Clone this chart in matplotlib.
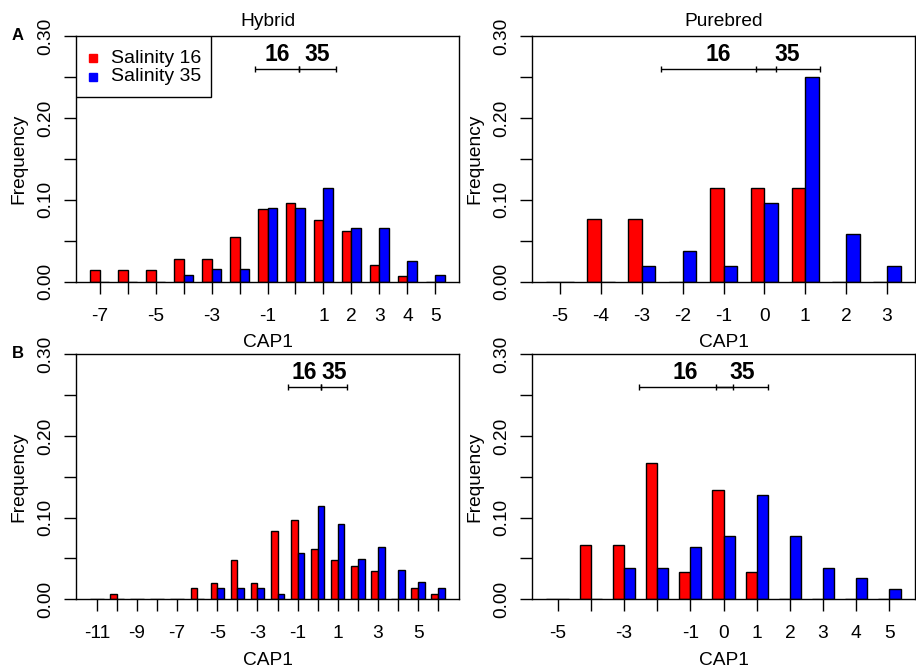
import numpy as np
import matplotlib
matplotlib.use("Agg")
import matplotlib.pyplot as plt
from matplotlib.patches import Rectangle
from matplotlib.lines import Line2D

plt.rcParams["font.family"] = ["Liberation Sans", "DejaVu Sans"]

# ---- data: relative frequency of CAP1 scores per salinity treatment ----
hybrid_a_cats = np.arange(-7, 6)
hybrid_a_s16 = [0.014, 0.014, 0.014, 0.028, 0.028, 0.055, 0.089, 0.096, 0.075, 0.062, 0.021, 0.007, 0.0]
hybrid_a_s35 = [0.0, 0.0, 0.0, 0.008, 0.016, 0.016, 0.090, 0.090, 0.115, 0.066, 0.066, 0.025, 0.008]
hybrid_a_labels = [-7, -5, -3, -1, 1, 2, 3, 4, 5]

purebred_a_cats = np.arange(-5, 4)
purebred_a_s16 = [0.0, 0.077, 0.077, 0.0, 0.115, 0.115, 0.115, 0.0, 0.0]
purebred_a_s35 = [0.0, 0.0, 0.019, 0.038, 0.019, 0.096, 0.250, 0.058, 0.019]
purebred_a_labels = [-5, -4, -3, -2, -1, 0, 1, 2, 3]

hybrid_b_cats = np.arange(-11, 7)
hybrid_b_s16 = [0.0, 0.0065, 0.0, 0.0, 0.0, 0.0135, 0.0204, 0.0486, 0.0204, 0.0833,
                0.0967, 0.062, 0.0486, 0.0412, 0.0343, 0.0, 0.0135, 0.0065]
hybrid_b_s35 = [0.0, 0.0, 0.0, 0.0, 0.0, 0.0, 0.0139, 0.0139, 0.0139, 0.0065,
                0.0571, 0.1139, 0.0927, 0.0498, 0.0637, 0.0355, 0.0212, 0.0139]
hybrid_b_labels = [-11, -9, -7, -5, -3, -1, 1, 3, 5]

purebred_b_cats = np.arange(-5, 6)
purebred_b_s16 = [0.0, 0.0667, 0.0667, 0.1667, 0.0333, 0.1333, 0.0333, 0.0, 0.0, 0.0, 0.0]
purebred_b_s35 = [0.0, 0.0, 0.0385, 0.0385, 0.0641, 0.0769, 0.1282, 0.0769, 0.0385, 0.0256, 0.0128]
purebred_b_labels = [-5, -3, -1, 0, 1, 2, 3, 4, 5]

# group means of CAP1 and interval half-widths (salinity 16, salinity 35)
hybrid_a_means, hybrid_a_hw = [-0.665, 0.79], [0.795, 0.66]
purebred_a_means, purebred_a_hw = [-1.13, 0.57], [1.41, 0.78]
hybrid_b_means, hybrid_b_hw = [-0.67, 0.81], [0.82, 0.66]
purebred_b_means, purebred_b_hw = [-1.14, 0.555], [1.42, 0.775]
group_names = ["16", "35"]

RED = "#FF0000"
BLUE = "#0000FF"
FS = 13.8
LW = 1.0

W, H = 916, 671
fig = plt.figure(figsize=(W / 100, H / 100), dpi=100)


def px_axes(x0, x1, ytop, ybot):
    return fig.add_axes([x0 / W, 1 - ybot / H, (x1 - x0) / W, (ybot - ytop) / H])


def panel(ax, cats, s16, s35, labels, means, hws):
    cats = np.asarray(cats)
    bw = 1 / 3
    ax.bar(cats - bw / 2, s16, width=bw, color=RED, edgecolor="black", linewidth=LW, zorder=2)
    ax.bar(cats + bw / 2, s35, width=bw, color=BLUE, edgecolor="black", linewidth=LW, zorder=2)
    span = (cats.max() - cats.min()) + 2 * bw
    ax.set_xlim(cats.min() - bw - 0.04 * span, cats.max() + bw + 0.04 * span)
    ax.set_ylim(0, 0.30)

    ax.set_xticks(cats)
    ax.set_xticklabels([str(c) if c in labels else "" for c in cats])
    yt = np.round(np.arange(0, 0.301, 0.05), 2)
    ax.set_yticks(yt)
    ax.set_yticklabels([f"{v:.2f}" if abs(v * 10 - round(v * 10)) < 1e-6 else "" for v in yt])
    for lab in ax.get_yticklabels():
        lab.set_rotation(90)
        lab.set_va("center")
    ax.tick_params(axis="both", direction="out", length=8.4, width=LW,
                   labelsize=FS, color="black")
    ax.tick_params(axis="x", pad=10.2)
    ax.tick_params(axis="y", pad=7.2)
    for sp in ax.spines.values():
        sp.set_linewidth(LW)
        sp.set_color("black")

    for m, hw, name in zip(means, hws, group_names):
        ax.errorbar(m, 0.26, xerr=hw, fmt="none", ecolor="black", elinewidth=LW,
                    capsize=2.4, capthick=LW, zorder=3)
        ax.text(m, 0.27, name, ha="center", va="baseline", fontsize=16.5,
                fontweight="bold", zorder=3)

    ax.set_ylabel("Frequency", fontsize=FS)
    ax.yaxis.set_label_coords(-0.128, 0.5)
    ax.set_xlabel("CAP1", fontsize=FS)
    ax.xaxis.set_label_coords(0.5, -0.214)


ax1 = px_axes(76, 459, 36, 281.7)
ax2 = px_axes(532.3, 914.7, 36, 281.7)
ax3 = px_axes(76, 459, 354.3, 599.3)
ax4 = px_axes(532.3, 914.7, 354.3, 599.3)

panel(ax1, hybrid_a_cats, hybrid_a_s16, hybrid_a_s35, hybrid_a_labels, hybrid_a_means, hybrid_a_hw)
panel(ax2, purebred_a_cats, purebred_a_s16, purebred_a_s35, purebred_a_labels, purebred_a_means, purebred_a_hw)
panel(ax3, hybrid_b_cats, hybrid_b_s16, hybrid_b_s35, hybrid_b_labels, hybrid_b_means, hybrid_b_hw)
panel(ax4, purebred_b_cats, purebred_b_s16, purebred_b_s35, purebred_b_labels, purebred_b_means, purebred_b_hw)

ax1.set_title("Hybrid", fontsize=FS, pad=7.3)
ax2.set_title("Purebred", fontsize=FS, pad=7.3)

# legend box in the first panel
tr = ax1.transAxes
ax1.add_patch(Rectangle((0, 0.7505), 0.3525, 1 - 0.7505, transform=tr, facecolor="white",
                        edgecolor="black", linewidth=LW, zorder=4))
for yy, col, lab in [(0.9092, RED, "Salinity 16"), (0.8343, BLUE, "Salinity 35")]:
    ax1.add_line(Line2D([0.0452], [yy], transform=tr, marker="s", markersize=5.2,
                        color=col, linestyle="none", zorder=5))
    ax1.text(0.0914, yy, lab, transform=tr, fontsize=14, va="center", ha="left", zorder=5)

# panel letters
fig.text(18 / W, 1 - 35 / H, "A", fontsize=12, fontweight="bold", ha="center", va="center")
fig.text(18 / W, 1 - 353 / H, "B", fontsize=12, fontweight="bold", ha="center", va="center")

fig.savefig("out.png", dpi=100)
